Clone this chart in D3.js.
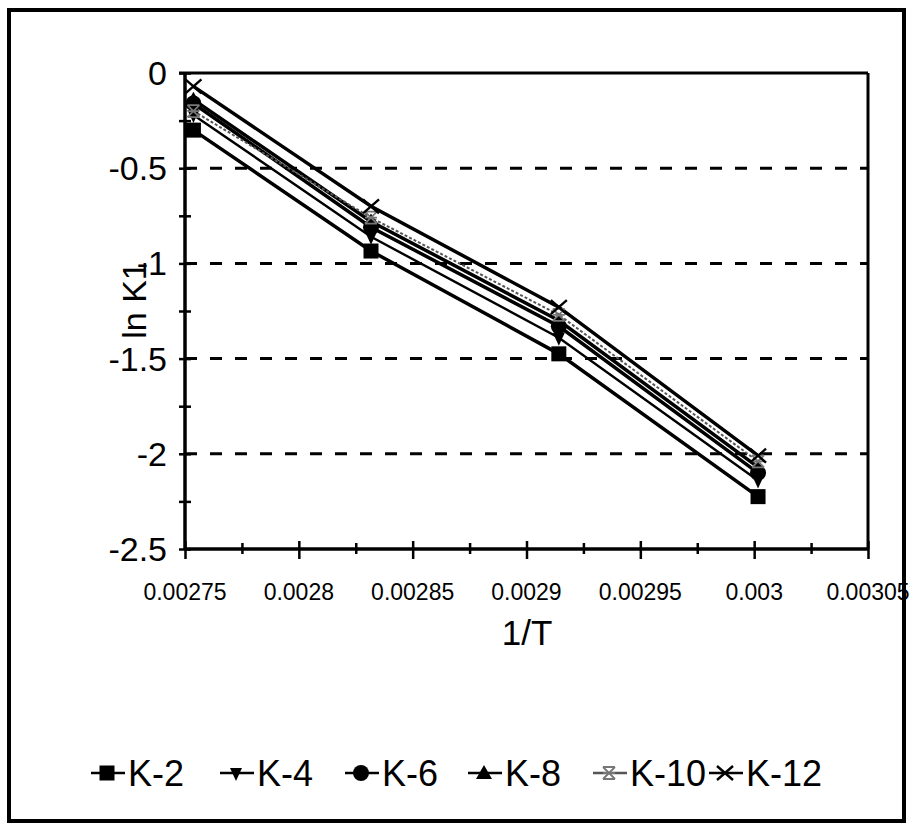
<!DOCTYPE html>
<html><head><meta charset="utf-8">
<script src="https://cdn.jsdelivr.net/npm/d3@7"></script>
<style>html,body{margin:0;padding:0;background:#fff;}svg{display:block;font-family:"Liberation Sans",Arial,sans-serif;}</style>
</head><body><svg id="c" width="911" height="827"></svg>
<script>
const invT = [0.0027537, 0.0028317, 0.0029142, 0.0030017];
const seriesNames = ["K-2","K-4","K-6","K-8","K-10","K-12"];
const k2  = [-0.30, -0.935, -1.475, -2.225];
const k4  = [-0.22, -0.86, -1.39, -2.14];
const k6  = [-0.16, -0.81, -1.33, -2.10];
const k8  = [-0.14, -0.78, -1.30, -2.07];
const k10 = [-0.20, -0.76, -1.27, -2.04];
const k12 = [-0.07, -0.70, -1.23, -2.01];
const xTicks = [0.00275,0.0028,0.00285,0.0029,0.00295,0.003,0.00305];
const xTickLabels = ["0.00275","0.0028","0.00285","0.0029","0.00295","0.003","0.00305"];
const yTicks = [0,-0.5,-1,-1.5,-2,-2.5];
const yTickLabels = ["0","-0.5","-1","-1.5","-2","-2.5"];
const gridVals = [-0.5,-1,-1.5,-2];

const svg = d3.select("#c");
const L=185, R=868, T=73, B=549;
const x = d3.scaleLinear().domain([0.00275,0.00305]).range([L,R]);
const y = d3.scaleLinear().domain([-2.5,0]).range([B,T]);

// outer border
svg.append("rect").attr("x",9).attr("y",10).attr("width",895).attr("height",811)
  .attr("fill","none").attr("stroke","#000").attr("stroke-width",4);

// gridlines
svg.append("g").selectAll("line").data(gridVals).join("line")
  .attr("x1",L).attr("x2",R).attr("y1",d=>y(d)).attr("y2",d=>y(d))
  .attr("stroke","#000").attr("stroke-width",3).attr("stroke-dasharray","12,13");

// plot frame top & right
svg.append("line").attr("x1",L-6).attr("x2",R).attr("y1",T).attr("y2",T).attr("stroke","#000").attr("stroke-width",3);
svg.append("line").attr("x1",R).attr("x2",R).attr("y1",T).attr("y2",B).attr("stroke","#000").attr("stroke-width",3);

// axes ticks (major + minor, crossing the axis)
const minorX = d3.range(0,13).map(i=>0.00275+i*0.000025);
const minorY = d3.range(0,11).map(i=>-2.5+i*0.25);
const isMajX = d=>xTicks.some(t=>Math.abs(t-d)<1e-9);
const gxm = svg.append("g").attr("transform",`translate(0,${B-8})`).call(d3.axisBottom(x).tickValues(minorX).tickSize(14).tickFormat(""));
gxm.select(".domain").remove();
gxm.selectAll("line").attr("stroke-width",2.5).attr("y1",d=>isMajX(d)?0:2).attr("y2",d=>isMajX(d)?18:13);
const gyA = svg.append("g").attr("transform",`translate(${L+6},0)`).call(d3.axisLeft(y).tickValues(minorY).tickSize(12).tickFormat(""));
gyA.select(".domain").remove();
gyA.selectAll("line").attr("stroke-width",2.5);
svg.append("line").attr("x1",L).attr("x2",R).attr("y1",B).attr("y2",B).attr("stroke","#000").attr("stroke-width",3.5);
svg.append("line").attr("x1",L).attr("x2",L).attr("y1",T).attr("y2",B).attr("stroke","#000").attr("stroke-width",3.5);

// tick labels
svg.append("g").selectAll("text").data(xTicks).join("text")
  .attr("x",d=>x(d)).attr("y",B+51).attr("text-anchor","middle")
  .attr("font-size",23).text((d,i)=>xTickLabels[i]);
svg.append("g").selectAll("text").data(yTicks).join("text")
  .attr("x",L-18).attr("y",d=>y(d)+12).attr("text-anchor","end")
  .attr("font-size",34).text((d,i)=>yTickLabels[i]);

// axis titles
svg.append("text").attr("x",527).attr("y",645).attr("text-anchor","middle").attr("font-size",35).text("1/T");
svg.append("text").attr("transform","translate(146,300) rotate(-90)").attr("text-anchor","middle").attr("font-size",34).text("ln K1");

// series
const data = [k2,k4,k6,k8,k10,k12];
const styles = [
  {stroke:"#000", w:3.5, dash:null, marker:"square", fill:"#000"},
  {stroke:"#000", w:2.4, dash:null, marker:"tridown", fill:"#000"},
  {stroke:"#000", w:3.5, dash:null, marker:"circle", fill:"#000"},
  {stroke:"#000", w:3.5, dash:null, marker:"triup", fill:"#000"},
  {stroke:"#555", w:2, dash:"3,2", marker:"star", fill:"#777"},
  {stroke:"#000", w:3.5, dash:null, marker:"cross", fill:"#000"}
];
const line = d3.line().x(d=>x(d[0])).y(d=>y(d[1]));
function drawMarker(g, type, cx, cy, col){
  if(type==="square") g.append("rect").attr("x",cx-7.5).attr("y",cy-7.5).attr("width",15).attr("height",15).attr("fill",col);
  else if(type==="circle") g.append("circle").attr("cx",cx).attr("cy",cy).attr("r",8).attr("fill",col);
  else if(type==="tridown") g.append("path").attr("d",`M${cx-6},${cy-5}L${cx+6},${cy-5}L${cx},${cy+8}Z`).attr("fill",col);
  else if(type==="triup") g.append("path").attr("d",`M${cx-8},${cy+6}L${cx+8},${cy+6}L${cx},${cy-8}Z`).attr("fill",col);
  else if(type==="star"){ g.append("path").attr("d",`M${cx-6},${cy-6}L${cx+6},${cy+6}M${cx+6},${cy-6}L${cx-6},${cy+6}M${cx-6},${cy}L${cx+6},${cy}M${cx-6},${cy-6}L${cx+6},${cy-6}M${cx-6},${cy+6}L${cx+6},${cy+6}`).attr("stroke",col).attr("stroke-width",1.8).attr("fill","none"); }
  else if(type==="cross") g.append("path").attr("d",`M${cx-8},${cy-7}L${cx+8},${cy+7}M${cx+8},${cy-7}L${cx-8},${cy+7}`).attr("stroke",col).attr("stroke-width",2.4);
}
const sg = svg.append("g");
data.forEach((vals,i)=>{
  const pts = invT.map((t,j)=>[t,vals[j]]);
  const st = styles[i];
  const p = sg.append("path").attr("d",line(pts)).attr("fill","none").attr("stroke",st.stroke).attr("stroke-width",st.w);
  if(st.dash) p.attr("stroke-dasharray",st.dash);
});
data.forEach((vals,i)=>{
  const st = styles[i];
  invT.forEach((t,j)=>drawMarker(sg, st.marker, x(t), y(vals[j]), st.fill));
});

// legend
const legX = [107,236,361,484,609,725];
const legY = 773;
const lg = svg.append("g");
seriesNames.forEach((n,i)=>{
  const st = styles[i];
  lg.append("line").attr("x1",legX[i]-16).attr("x2",legX[i]+18).attr("y1",legY).attr("y2",legY)
    .attr("stroke",st.stroke).attr("stroke-width",2.4);
  drawMarker(lg, st.marker, legX[i], legY, st.fill);
  lg.append("text").attr("x",legX[i]+21).attr("y",legY+13).attr("font-size",36).text(n);
});
</script></body></html>
